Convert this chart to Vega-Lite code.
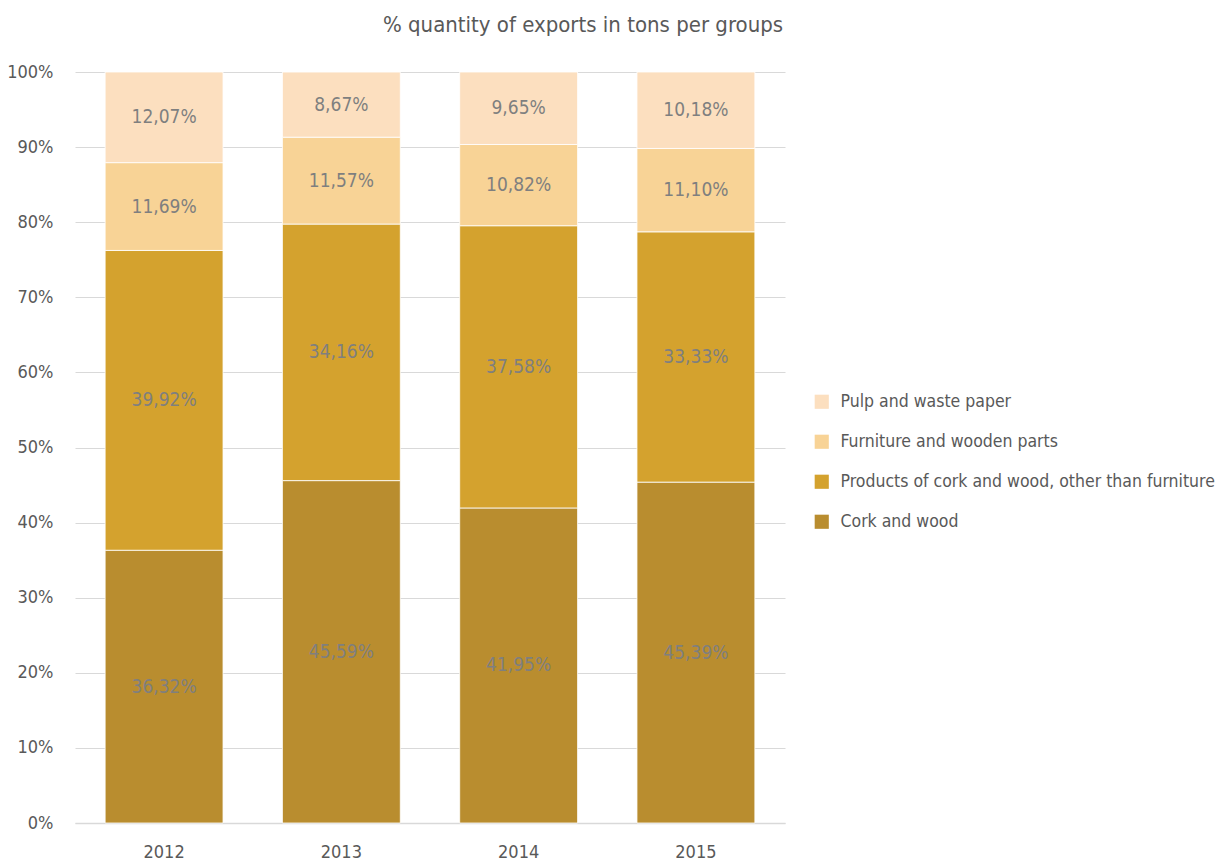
{
  "$schema": "https://vega.github.io/schema/vega-lite/v6.json",
  "autosize": "none",
  "width": 710,
  "height": 751,
  "padding": {"left": 75, "top": 72, "right": 442, "bottom": 41},
  "background": "white",
  "config": {
    "font": "DejaVu Sans Condensed, Liberation Sans Narrow, Roboto, sans-serif",
    "view": {"stroke": null},
    "locale": {"number": {"decimal": ",", "thousands": ".", "grouping": [3], "currency": ["", " €"]}}
  },
  "title": {
    "text": "% quantity of exports in tons per groups",
    "fontSize": 22,
    "fontWeight": "normal",
    "color": "#595959",
    "anchor": "middle",
    "dx": 153,
    "offset": 26
  },
  "data": {
    "values": [
      {"year": "2012", "group": "Cork and wood", "order": 1, "value": 0.3632},
      {"year": "2012", "group": "Products of cork and wood, other than furniture", "order": 2, "value": 0.3992},
      {"year": "2012", "group": "Furniture and wooden parts", "order": 3, "value": 0.1169},
      {"year": "2012", "group": "Pulp and waste paper", "order": 4, "value": 0.1207},
      {"year": "2013", "group": "Cork and wood", "order": 1, "value": 0.4559},
      {"year": "2013", "group": "Products of cork and wood, other than furniture", "order": 2, "value": 0.3416},
      {"year": "2013", "group": "Furniture and wooden parts", "order": 3, "value": 0.1157},
      {"year": "2013", "group": "Pulp and waste paper", "order": 4, "value": 0.0867},
      {"year": "2014", "group": "Cork and wood", "order": 1, "value": 0.4195},
      {"year": "2014", "group": "Products of cork and wood, other than furniture", "order": 2, "value": 0.3758},
      {"year": "2014", "group": "Furniture and wooden parts", "order": 3, "value": 0.1082},
      {"year": "2014", "group": "Pulp and waste paper", "order": 4, "value": 0.0965},
      {"year": "2015", "group": "Cork and wood", "order": 1, "value": 0.4539},
      {"year": "2015", "group": "Products of cork and wood, other than furniture", "order": 2, "value": 0.3333},
      {"year": "2015", "group": "Furniture and wooden parts", "order": 3, "value": 0.1110},
      {"year": "2015", "group": "Pulp and waste paper", "order": 4, "value": 0.1018}
    ]
  },
  "transform": [
    {"stack": "value", "groupby": ["year"], "sort": [{"field": "order", "order": "ascending"}], "as": ["y0", "y1"]},
    {"calculate": "(datum.y0 + datum.y1) / 2", "as": "ymid"}
  ],
  "encoding": {
    "x": {
      "field": "year",
      "type": "nominal",
      "scale": {"paddingInner": 0.335, "paddingOuter": 0.17},
      "axis": {
        "title": null,
        "labelAngle": 0,
        "labelFontSize": 18,
        "labelColor": "#595959",
        "labelPadding": 20,
        "ticks": false,
        "domainColor": "#D9D9D9",
        "domainWidth": 1.5
      }
    }
  },
  "layer": [
    {
      "mark": {"type": "bar", "stroke": "white", "strokeWidth": 0.8},
      "encoding": {
        "y": {
          "field": "y0",
          "type": "quantitative",
          "scale": {"domain": [0, 1]},
          "axis": {
            "title": null,
            "values": [0, 0.1, 0.2, 0.3, 0.4, 0.5, 0.6, 0.7, 0.8, 0.9, 1],
            "format": ".0%",
            "labelFontSize": 18,
            "labelColor": "#595959",
            "labelPadding": 22,
            "ticks": false,
            "domain": false,
            "gridColor": "#D9D9D9",
            "gridWidth": 1
          }
        },
        "y2": {"field": "y1"},
        "color": {
          "field": "group",
          "type": "nominal",
          "scale": {
            "domain": ["Pulp and waste paper", "Furniture and wooden parts", "Products of cork and wood, other than furniture", "Cork and wood"],
            "range": ["#FCDFBF", "#F8D396", "#D4A22E", "#B98D2F"]
          },
          "legend": {
            "title": null,
            "orient": "none",
            "legendX": 738,
            "legendY": 321,
            "symbolType": "square",
            "symbolSize": 200,
            "symbolStrokeWidth": 0,
            "labelFontSize": 17.5,
            "labelColor": "#595959",
            "labelLimit": 500,
            "rowPadding": 21,
            "labelOffset": 10
          }
        }
      }
    },
    {
      "mark": {"type": "text", "fontSize": 19, "color": "#7F7F7F", "baseline": "middle"},
      "encoding": {
        "y": {"field": "ymid", "type": "quantitative"},
        "text": {"field": "value", "type": "quantitative", "format": ".2%"}
      }
    }
  ]
}
